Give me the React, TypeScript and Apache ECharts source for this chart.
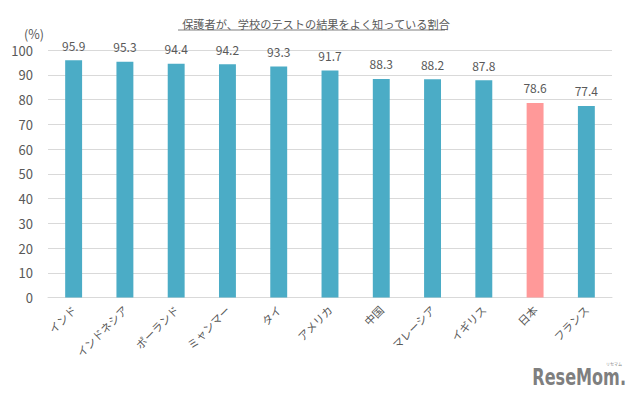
import React, { useEffect, useRef } from "react";
import * as echarts from "echarts";

const categories = ["インド", "インドネシア", "ポーランド", "ミャンマー", "タイ", "アメリカ", "中国", "マレーシア", "イギリス", "日本", "フランス"];
const values = [95.9, 95.3, 94.4, 94.2, 93.3, 91.7, 88.3, 88.2, 87.8, 78.6, 77.4];
const highlighted = "日本";
const titleText = "保護者が、学校のテストの結果をよく知っている割合";
const unitText = "(%)";

const FONT = "'Noto Sans CJK JP', 'Noto Sans', sans-serif";
const TEXT = "#595959";

export default function App() {
  const ref = useRef<HTMLDivElement>(null);
  useEffect(() => {
    if (!ref.current) return;
    const chart = echarts.init(ref.current, null, { renderer: "svg" });
    chart.setOption({
      animation: false,
      backgroundColor: "#ffffff",
      textStyle: { fontFamily: FONT },
      title: {
        text: titleText,
        left: 311,
        textAlign: "center",
        top: 13,
        textStyle: { fontFamily: FONT, fontSize: 11.2, fontWeight: "normal", color: TEXT },
      },
      grid: { left: 48, right: 28, top: 50, bottom: 102.5 },
      xAxis: {
        type: "category",
        data: categories,
        axisLine: { lineStyle: { color: "#d9d9d9", width: 1 } },
        axisTick: { show: false },
        axisLabel: { rotate: 45, margin: 10, fontSize: 11, color: TEXT, fontFamily: FONT, interval: 0 },
      },
      yAxis: {
        type: "value",
        min: 0,
        max: 100,
        interval: 10,
        axisLine: { show: false },
        axisTick: { show: false },
        splitLine: { lineStyle: { color: "#d9d9d9", width: 1 } },
        axisLabel: { fontSize: 13, color: TEXT, margin: 15, fontFamily: FONT },
      },
      series: [
        {
          type: "bar",
          barWidth: "33%",
          data: values.map((v, i) => ({
            value: v,
            itemStyle: { color: categories[i] === highlighted ? "#ff9999" : "#4bacc6" },
          })),
          label: {
            show: true,
            position: "top",
            distance: 9,
            fontSize: 12,
            color: TEXT,
            fontFamily: FONT,
            formatter: (p: any) => p.value.toFixed(1),
          },
        },
      ],
      graphic: [
        {
          type: "line",
          shape: { x1: 178, y1: 30, x2: 445, y2: 30 },
          style: { stroke: "#7f7f7f", lineWidth: 1 },
        },
        {
          type: "text",
          x: 34,
          y: 33,
          style: { text: unitText, fontSize: 12.5, fill: TEXT, fontFamily: FONT, textAlign: "center", textVerticalAlign: "middle" },
        },
        {
          type: "text",
          x: 626,
          y: 377,
          scaleX: 0.7,
          style: {
            text: "ReseMom.",
            fontSize: 23,
            fontWeight: "bold",
            fill: "#7f7f7f",
            fontFamily: "'DejaVu Sans', sans-serif",
            textAlign: "right",
            textVerticalAlign: "middle",
          },
        },
        {
          type: "text",
          x: 614,
          y: 364,
          style: { text: "リセマム", fontSize: 4, fill: "#7f7f7f", fontFamily: FONT, textAlign: "center", textVerticalAlign: "middle" },
        },
      ],
    });
    return () => chart.dispose();
  }, []);
  return <div ref={ref} style={{ position: "fixed", left: 0, top: 0, width: 640, height: 400 }} />;
}
